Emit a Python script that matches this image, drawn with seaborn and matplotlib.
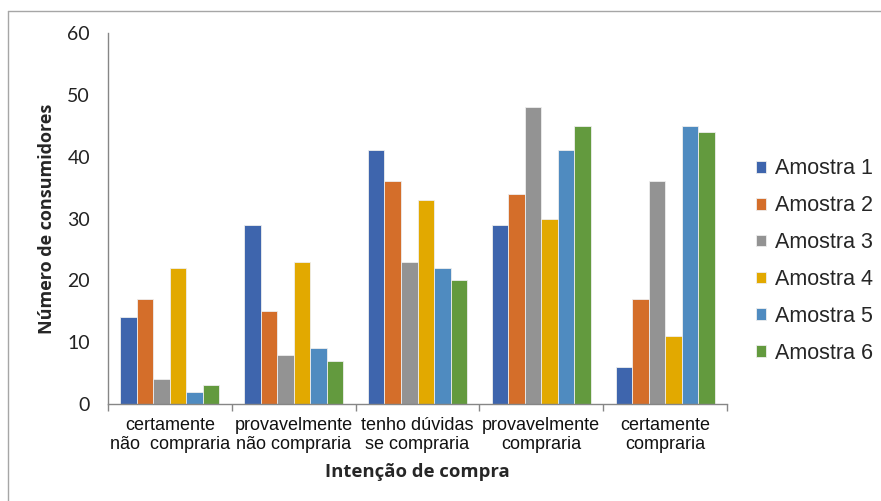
import matplotlib
matplotlib.use('Agg')
import matplotlib.pyplot as plt
from matplotlib.lines import Line2D
import numpy as np
import pandas as pd
import seaborn as sns

categories = [
    'certamente\nnão  compraria',
    'provavelmente\nnão compraria',
    'tenho dúvidas\nse compraria',
    'provavelmente\ncompraria',
    'certamente\ncompraria',
]
series_names = ['Amostra 1', 'Amostra 2', 'Amostra 3', 'Amostra 4', 'Amostra 5', 'Amostra 6']
amostra_1 = [14, 29, 41, 29, 6]
amostra_2 = [17, 15, 36, 34, 17]
amostra_3 = [4, 8, 23, 48, 36]
amostra_4 = [22, 23, 33, 30, 11]
amostra_5 = [2, 9, 22, 41, 45]
amostra_6 = [3, 7, 20, 45, 44]
y_ticks = [0, 10, 20, 30, 40, 50, 60]

colors = ['#3E65AD', '#D46E2A', '#939393', '#E2A900', '#4F8BC0', '#639A3E']

rows = []
for name, vals in zip(series_names, [amostra_1, amostra_2, amostra_3, amostra_4, amostra_5, amostra_6]):
    for cat, v in zip(categories, vals):
        rows.append({'categoria': cat, 'amostra': name, 'valor': v})
df = pd.DataFrame(rows)

sns.set_style('white')
plt.rcParams['font.family'] = ['Liberation Sans', 'DejaVu Sans']

fig = plt.figure(figsize=(8.81, 5.01), dpi=100)
ax = fig.add_axes([108 / 881, 1 - 404 / 501, (727 - 108) / 881, (404 - 33) / 501])

sns.barplot(data=df, x='categoria', y='valor', hue='amostra', order=categories,
            hue_order=series_names, palette=colors, saturation=1, width=0.8, ax=ax,
            edgecolor='#eeeeee', linewidth=0.6, errorbar=None)

ax.set_xlim(-0.5, len(categories) - 0.5)
ax.set_ylim(0, 60)
ax.set_yticks(y_ticks)
ax.set_yticklabels([str(t) for t in y_ticks], family=['Lato', 'DejaVu Sans'], fontsize=14, color='#222222')

# category boundaries as tick marks, labels centred between them
ax.set_xticks(np.arange(-0.5, len(categories)), minor=False)
ax.set_xticklabels([''] * (len(categories) + 1))
ax.set_xticks(np.arange(len(categories)), minor=True)
ax.set_xticklabels(categories, minor=True, fontsize=13, color='#111111', linespacing=1.2)
ax.tick_params(axis='x', which='minor', length=0, pad=9)
ax.tick_params(axis='x', which='major', length=5, width=1, color='#868686', direction='out')
ax.tick_params(axis='y', length=5, width=1, color='#868686', direction='out', pad=8)
ax.tick_params(axis='x', bottom=True, which='both')

for s in ['top', 'right']:
    ax.spines[s].set_visible(False)
for s in ['left', 'bottom']:
    ax.spines[s].set_color('#868686')
    ax.spines[s].set_linewidth(1)

ax.set_xlabel('Intenção de compra', fontsize=13.3, fontweight='bold',
              family=['Open Sans', 'DejaVu Sans'], labelpad=7)
ax.set_ylabel('Número de consumidores', fontsize=13, fontweight='bold',
              family=['Open Sans', 'DejaVu Sans'], labelpad=8)

leg = ax.legend(loc='center left', bbox_to_anchor=(1.015, 0.385), frameon=False,
                fontsize=15.5, handlelength=0.47, handleheight=0.47, handletextpad=0.42,
                labelspacing=0.74)

# outer chart frame (left and top edge)
fig.add_artist(Line2D([8 / 881, 8 / 881], [0, 1 - 11 / 501], transform=fig.transFigure,
                      color='#a6a6a6', linewidth=1))
fig.add_artist(Line2D([8 / 881, 1], [1 - 11 / 501, 1 - 11 / 501], transform=fig.transFigure,
                      color='#a6a6a6', linewidth=1))

fig.savefig('out.png', dpi=100, facecolor='white')
plt.close(fig)
